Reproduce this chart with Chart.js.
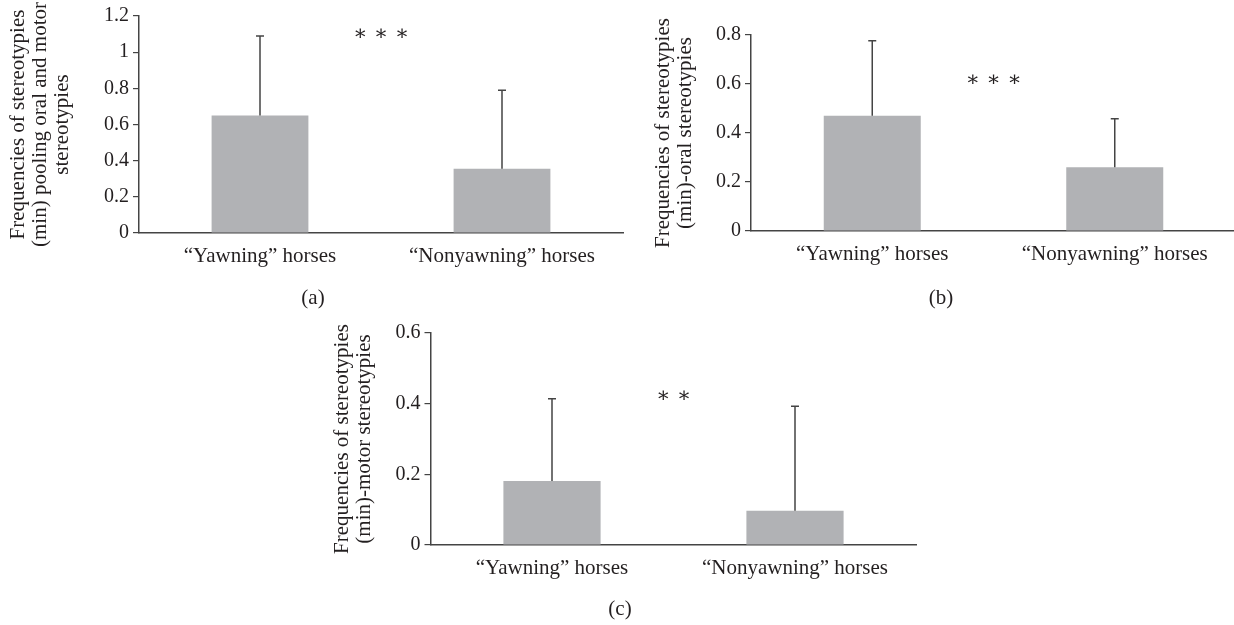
<!DOCTYPE html>
<html><head><meta charset="utf-8">
<script src="https://cdn.jsdelivr.net/npm/chart.js@4"></script>
<style>
html,body{margin:0;padding:0;background:#fff;}
body{width:1234px;height:625px;overflow:hidden;position:relative;}
canvas{position:absolute;}
.lbl{position:absolute;font:21px "Liberation Serif",serif;color:#231f20;transform:translate(-50%,-50%);white-space:nowrap;}
</style></head><body>
<canvas id="ca" width="640" height="310" style="left:0;top:0"></canvas>
<canvas id="cb" width="616" height="310" style="left:620px;top:0"></canvas>
<canvas id="cc" width="620" height="315" style="left:310px;top:310px"></canvas>
<div class="lbl" id="la" style="left:313px;top:297px"></div>
<div class="lbl" id="lb" style="left:941px;top:297px"></div>
<div class="lbl" id="lc" style="left:620px;top:608px"></div>
<script>
// ---- data ----
const categories = ['\u201cYawning\u201d horses', '\u201cNonyawning\u201d horses'];
const meansA = [0.65, 0.355];
const sdA = [0.44, 0.435];
const meansB = [0.47, 0.26];
const sdB = [0.307, 0.198];
const meansC = [0.181, 0.097];
const sdC = [0.233, 0.296];
const ticksA = [0, 0.2, 0.4, 0.6, 0.8, 1, 1.2];
const ticksB = [0, 0.2, 0.4, 0.6, 0.8];
const ticksC = [0, 0.2, 0.4, 0.6];
const titleA = ['Frequencies of stereotypies', '(min) pooling oral and motor', 'stereotypies'];
const titleB = ['Frequencies of stereotypies', '(min)-oral stereotypies'];
const titleC = ['Frequencies of stereotypies', '(min)-motor stereotypies'];
const sigA = '\u2217 \u2217 \u2217', sigB = '\u2217 \u2217 \u2217', sigC = '\u2217 \u2217';
const sigYA = 1.10, sigYB = 0.616, sigYC = 0.419;
const panels = ['(a)', '(b)', '(c)'];

document.getElementById('la').textContent = panels[0];
document.getElementById('lb').textContent = panels[1];
document.getElementById('lc').textContent = panels[2];

const FONT = '"Liberation Serif", "Times New Roman", serif';
const TXT = '#231f20';
const AX = '#444444';
const BAR = '#b1b2b5';

const errPlugin = {
  id: 'err',
  afterDatasetsDraw(chart, args, opts) {
    const ctx = chart.ctx;
    const ys = chart.scales.y;
    const meta = chart.getDatasetMeta(0);
    ctx.save();
    ctx.strokeStyle = AX;
    ctx.lineWidth = 1.5;
    meta.data.forEach((bar, i) => {
      const top = ys.getPixelForValue(opts.means[i] + opts.sd[i]);
      ctx.beginPath();
      ctx.moveTo(bar.x, bar.y);
      ctx.lineTo(bar.x, top);
      ctx.moveTo(bar.x - 4, top);
      ctx.lineTo(bar.x + 4, top);
      ctx.stroke();
    });
    // significance marks
    const ca = chart.chartArea;
    ctx.fillStyle = TXT;
    ctx.font = '21px "DejaVu Serif", serif';
    ctx.textAlign = 'center';
    ctx.textBaseline = 'middle';
    ctx.fillText(opts.sig, (ca.left + ca.right) / 2, ys.getPixelForValue(opts.sigY));
    ctx.restore();
  }
};

function make(id, means, sd, ticks, title, sig, sigY, L) {
  return new Chart(document.getElementById(id), {
    type: 'bar',
    data: { labels: categories, datasets: [{ data: means, backgroundColor: BAR, borderWidth: 0, barPercentage: 0.4, categoryPercentage: 1.0 }] },
    options: {
      responsive: false, animation: false, devicePixelRatio: 1,
      layout: { padding: { top: L.top, right: L.right, left: 0, bottom: 0 } },
      plugins: { legend: { display: false }, tooltip: { enabled: false },
        err: { means: means, sd: sd, sig: sig, sigY: sigY } },
      scales: {
        x: {
          grid: { display: true, drawOnChartArea: false, drawTicks: false },
          border: { display: true, color: AX, width: 1.5 },
          ticks: { color: TXT, font: { family: FONT, size: 21 }, padding: 11, maxRotation: 0 },
          afterFit(s) { s.height = L.xh; }
        },
        y: {
          min: ticks[0], max: ticks[ticks.length - 1],
          afterBuildTicks(s) { s.ticks = ticks.map(v => ({ value: v })); },
          grid: { display: true, drawOnChartArea: false, drawTicks: true, tickLength: 6, color: AX, lineWidth: 1.2 },
          border: { display: true, color: AX, width: 1.5 },
          ticks: { color: TXT, font: { family: FONT, size: 20 }, padding: 4, callback: v => String(v) },
          title: { display: true, text: title, color: TXT, font: { family: FONT, size: 21, lineHeight: 1.05 }, padding: { top: L.tp, bottom: 0 } },
          afterFit(s) { s.width = L.yw; }
        }
      }
    },
    plugins: [errPlugin]
  });
}

make('ca', meansA, sdA, ticksA, titleA, sigA, sigYA, { top: 15, right: 17, xh: 77, yw: 139, tp: 7 });
make('cb', meansB, sdB, ticksB, titleB, sigB, sigYB, { top: 35, right: 0, xh: 79, yw: 131, tp: 32 });
make('cc', meansC, sdC, ticksC, titleC, sigC, sigYC, { top: 23, right: 13.5, xh: 80, yw: 120.5, tp: 21 });
</script>
</body></html>
